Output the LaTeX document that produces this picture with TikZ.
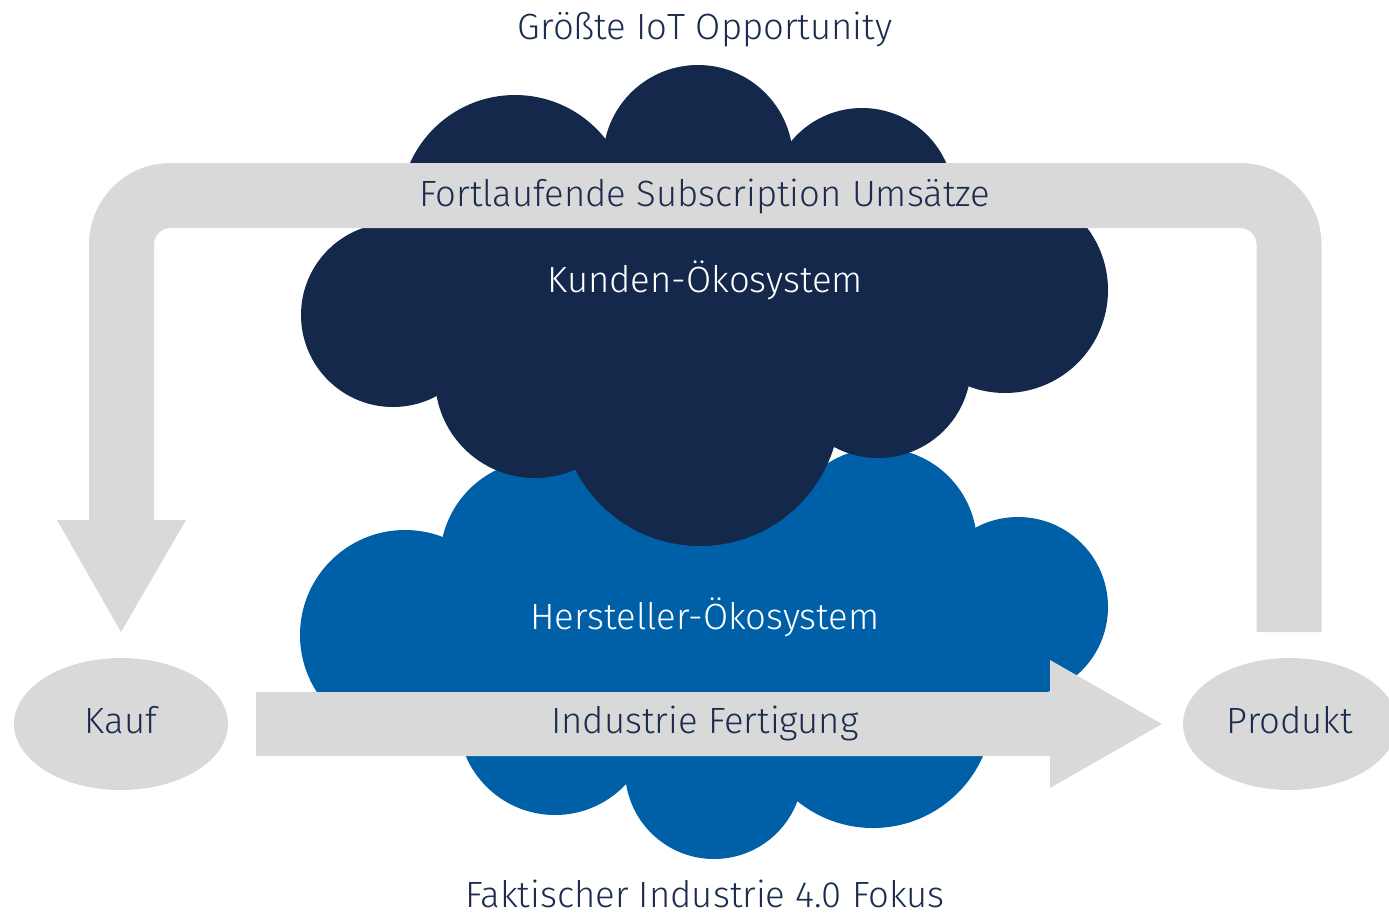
\documentclass[tikz,border=0pt]{standalone}
\usepackage{fontspec}
\setmainfont{Fira Sans}[UprightFont={* Light}]
\usetikzlibrary{shapes.geometric}
\definecolor{navy}{HTML}{13284B}
\definecolor{inkblue}{HTML}{1B2C4F}
\definecolor{mainblue}{HTML}{0060A7}
\definecolor{flowgray}{HTML}{D9D9D9}
\tikzset{
  darkcloud/.style={fill=navy},
  bluecloud/.style={fill=mainblue},
  flowband/.style={draw=flowgray, line width=65pt, rounded corners=49pt},
  flowhead/.style={fill=flowgray},
  labelfont/.style={font=\fontsize{36.5}{42}\selectfont},
  endpoint/.style={ellipse, fill=flowgray, minimum width=214pt, minimum height=132pt, inner sep=0pt},
  darklabel/.style={labelfont, text=inkblue, inner sep=0pt, anchor=base},
  whitelabel/.style={labelfont, text=white, inner sep=0pt, anchor=base},
}
\begin{document}
\begin{tikzpicture}[x=1pt,y=-1pt]
\useasboundingbox (0,0) rectangle (1389,916);

% lower cloud: manufacturer ecosystem
\fill[bluecloud]
  (405,635) -- (540,480) -- (880,470) -- (1018,607) -- (873,708) -- (714,770) -- (555,718) -- cycle;
\foreach \cx/\cy/\r in {540/560/100, 880/545/97, 405/635/105, 1018/607/90,
                        555/718/97, 714/770/89, 873/708/120}
  \fill[bluecloud] (\cx,\cy) circle[radius=\r pt];

% upper cloud: customer ecosystem
\fill[darkcloud]
  (393,315) -- (515,210) -- (698,160) -- (862,200) -- (1005,290) -- (878,365) -- (700,405) -- (535,378) -- cycle;
\foreach \cx/\cy/\r in {698/160/95, 515/210/115, 862/200/92, 393/315/92,
                        1005/290/103, 535/378/100, 700/406/140, 878/365/93}
  \fill[darkcloud] (\cx,\cy) circle[radius=\r pt];

% end points
\node[endpoint] (kauf) at (121,724) {};
\node[endpoint] (produkt) at (1290,724) {};
\node[darklabel] (kauftext) at (121,733) {Kauf};
\node[darklabel] (produkttext) at (1290,733) {Produkt};

% recurring revenue loop from Produkt back to Kauf
\coordinate (loopstart) at (1289,632);
\coordinate (loopend) at (121.5,520);
\draw[flowband] (loopstart) -- (1289,195.5) -- (121.5,195.5) -- (loopend);
\fill[flowhead] (57,520) -- (186,520) -- (121,632) -- cycle;

% manufacturing arrow from Kauf to Produkt
\coordinate (mfgstart) at (256,724);
\fill[flowhead] (mfgstart |- 0,692) -- (1050,692) -- (1050,660) -- (1162,724)
  -- (1050,788) -- (1050,756) -- (mfgstart |- 0,756) -- cycle;

% labels
\node[darklabel] (opportunity) at (705,39) {Größte IoT Opportunity};
\node[darklabel] (subscription) at (705,206) {Fortlaufende Subscription Umsätze};
\node[whitelabel] (kunden) at (705,292.5) {Kunden-Ökosystem};
\node[whitelabel] (hersteller) at (705,629) {Hersteller-Ökosystem};
\node[darklabel] (fertigung) at (705,733) {Industrie Fertigung};
\node[darklabel] (fokus) at (705,907.5) {Faktischer Industrie 4.0 Fokus};
\end{tikzpicture}
\end{document}
